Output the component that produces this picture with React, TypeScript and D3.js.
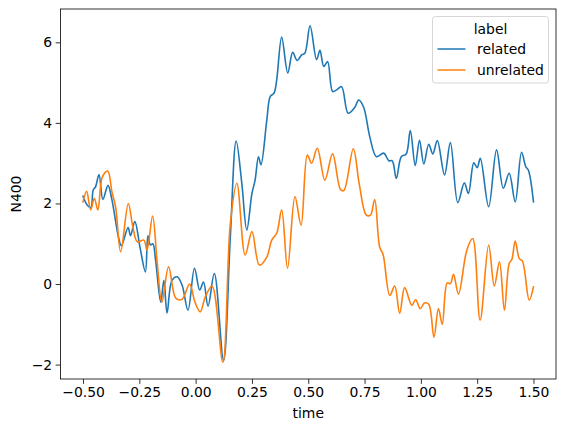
import React, { useEffect, useRef } from 'react';
import * as d3 from 'd3';

// related condition: time (s) and N400 amplitude
const relatedTime = [-0.5, -0.48, -0.465, -0.455, -0.444, -0.429, -0.412, -0.389, -0.372, -0.342, -0.33, -0.3, -0.289, -0.27, -0.246, -0.223, -0.212, -0.201, -0.19, -0.178, -0.155, -0.141, -0.127, -0.105, -0.082, -0.06, -0.034, -0.005, 0.018, 0.035, 0.055, 0.083, 0.124, 0.154, 0.18, 0.205, 0.227, 0.25, 0.264, 0.279, 0.29, 0.316, 0.331, 0.348, 0.36, 0.382, 0.409, 0.431, 0.451, 0.471, 0.485, 0.508, 0.537, 0.552, 0.569, 0.586, 0.608, 0.626, 0.648, 0.677, 0.707, 0.724, 0.746, 0.773, 0.803, 0.835, 0.858, 0.873, 0.891, 0.913, 0.935, 0.953, 0.975, 0.994, 1.013, 1.035, 1.053, 1.073, 1.105, 1.131, 1.164, 1.193, 1.211, 1.235, 1.25, 1.264, 1.301, 1.336, 1.366, 1.392, 1.419, 1.447, 1.466, 1.477, 1.5];
const relatedN400 = [2.18, 1.95, 1.9, 2.33, 2.42, 2.72, 2.1, 2.45, 2.1, 1.15, 0.95, 1.4, 1.2, 1.55, 0.88, 0.3, 1.2, 0.97, 1.0, 0.6, -0.45, 0.09, -0.72, 0.09, 0.18, -0.03, -0.65, 0.39, -0.15, 0.05, -0.55, 0.26, -1.9, 1.17, 3.55, 2.5, 1.34, 2.25, 2.58, 3.16, 2.96, 4.07, 4.65, 4.74, 5.07, 6.13, 5.24, 5.75, 5.55, 5.69, 5.73, 6.41, 5.57, 5.8, 5.4, 5.52, 4.78, 4.82, 4.9, 4.24, 4.39, 4.57, 4.39, 3.66, 3.16, 3.25, 3.06, 3.06, 2.62, 3.16, 3.23, 3.81, 2.94, 3.57, 2.98, 3.47, 3.23, 3.56, 2.71, 3.51, 2.02, 2.51, 2.25, 3.01, 2.89, 3.12, 1.92, 3.33, 2.38, 2.75, 2.04, 3.27, 2.91, 2.83, 2.04];

// unrelated condition
const unrelatedTime = [-0.5, -0.484, -0.466, -0.45, -0.434, -0.414, -0.39, -0.372, -0.355, -0.333, -0.299, -0.28, -0.259, -0.23, -0.216, -0.191, -0.171, -0.15, -0.12, -0.088, -0.06, -0.027, -0.003, 0.02, 0.043, 0.073, 0.121, 0.154, 0.183, 0.22, 0.25, 0.283, 0.316, 0.338, 0.36, 0.382, 0.408, 0.441, 0.468, 0.496, 0.515, 0.54, 0.574, 0.608, 0.643, 0.658, 0.7, 0.726, 0.758, 0.776, 0.795, 0.817, 0.832, 0.862, 0.884, 0.906, 0.928, 0.96, 0.977, 0.997, 1.016, 1.035, 1.058, 1.078, 1.095, 1.117, 1.131, 1.145, 1.167, 1.204, 1.23, 1.263, 1.301, 1.326, 1.349, 1.371, 1.392, 1.404, 1.419, 1.437, 1.451, 1.481, 1.5];
const unrelatedN400 = [2.04, 2.3, 1.84, 2.13, 1.84, 2.66, 2.8, 2.3, 1.9, 0.8, 2.0, 1.46, 1.05, 1.09, 0.84, 1.69, 0.55, -0.45, 0.43, -0.35, -0.38, 0.0, -0.45, -0.69, -0.32, -0.05, -1.94, 1.5, 2.5, 0.72, 1.3, 0.47, 0.67, 1.09, 1.26, 1.84, 0.39, 2.17, 1.46, 3.2, 3.0, 3.37, 2.58, 3.23, 2.35, 2.32, 3.36, 2.5, 1.71, 1.71, 2.1, 0.92, 0.74, -0.28, -0.05, -0.73, -0.09, -0.53, -0.39, -0.61, -0.47, -0.5, -1.32, -0.61, -1.0, 0.03, 0.01, 0.24, -0.25, 0.84, 1.13, -0.9, 0.97, -0.05, 0.55, -0.65, 0.51, 0.61, 1.07, 0.63, 0.57, -0.4, -0.07];

const labels = ['related', 'unrelated'];
const colors = ['#1f77b4', '#ff7f0e'];
const xTicks = [-0.5, -0.25, 0, 0.25, 0.5, 0.75, 1.0, 1.25, 1.5];
const yTicks = [-2, 0, 2, 4, 6];

const W = 565, H = 432;
const left = 60.5, right = 556, top = 9, bottom = 379;
const FONT = 'DejaVu Sans, sans-serif';

export default function App() {
    const anchor = useRef<SVGSVGElement>(null);

    useEffect(() => {
        const svg = d3.select(anchor.current);
        svg.selectAll('*').remove();

        const series = [
            relatedTime.map((t, i) => [t, relatedN400[i]] as [number, number]),
            unrelatedTime.map((t, i) => [t, unrelatedN400[i]] as [number, number]),
        ];

        const allY = relatedN400.concat(unrelatedN400);
        const yMin = d3.min(allY)!, yMax = d3.max(allY)!;
        const pad = (yMax - yMin) * 0.05;

        const x = d3.scaleLinear().domain([-0.6, 1.6]).range([left, right]);
        const y = d3.scaleLinear().domain([yMin - pad, yMax + pad]).range([bottom, top]);

        // smooth through the picked points, like the filtered ERP traces
        const line = d3.line<[number, number]>()
            .x(d => x(d[0]))
            .y(d => y(d[1]))
            .curve(d3.curveCatmullRom.alpha(0.5));

        const plot = svg.append('g');
        series.forEach((s, i) => {
            plot.append('path')
                .attr('d', line(s))
                .attr('fill', 'none')
                .attr('stroke', colors[i])
                .attr('stroke-width', 1.6)
                .attr('stroke-linejoin', 'round')
                .attr('stroke-linecap', 'square');
        });

        // x axis
        const xAxis = svg.append('g')
            .attr('transform', `translate(0,${bottom})`)
            .call(d3.axisBottom(x).tickValues(xTicks).tickFormat(d3.format('.2f') as any)
                .tickSize(4.86).tickPadding(3.5).tickSizeOuter(0));
        xAxis.select('.domain').remove();

        // y axis
        const yAxis = svg.append('g')
            .attr('transform', `translate(${left},0)`)
            .call(d3.axisLeft(y).tickValues(yTicks).tickFormat(d3.format('d') as any)
                .tickSize(4.86).tickPadding(3.5).tickSizeOuter(0));
        yAxis.select('.domain').remove();

        svg.selectAll('.tick line').attr('stroke', '#000').attr('stroke-width', 0.8);
        svg.selectAll('.tick text')
            .attr('fill', '#000')
            .style('font-family', FONT)
            .style('font-size', '13.9px');

        // spines
        svg.append('rect')
            .attr('x', left).attr('y', top)
            .attr('width', right - left).attr('height', bottom - top)
            .attr('fill', 'none').attr('stroke', '#000').attr('stroke-width', 0.8);

        // axis labels
        svg.append('text')
            .attr('x', (left + right) / 2).attr('y', 418)
            .attr('text-anchor', 'middle')
            .style('font-family', FONT).style('font-size', '13.9px')
            .text('time');

        svg.append('text')
            .attr('transform', `translate(21,${(top + bottom) / 2}) rotate(-90)`)
            .attr('text-anchor', 'middle')
            .style('font-family', FONT).style('font-size', '13.9px')
            .text('N400');

        // legend
        const lg = svg.append('g');
        lg.append('rect')
            .attr('x', 432.5).attr('y', 16.5).attr('width', 116).attr('height', 66.5)
            .attr('rx', 3).attr('fill', 'white').attr('fill-opacity', 0.8)
            .attr('stroke', '#cccccc').attr('stroke-width', 0.8);
        lg.append('text')
            .attr('x', 490.5).attr('y', 34)
            .attr('text-anchor', 'middle')
            .style('font-family', FONT).style('font-size', '13.9px')
            .text('label');
        labels.forEach((lab, i) => {
            const ly = 49 + i * 21;
            lg.append('line')
                .attr('x1', 437.5).attr('x2', 465.5).attr('y1', ly).attr('y2', ly)
                .attr('stroke', colors[i]).attr('stroke-width', 1.5);
            lg.append('text')
                .attr('x', 477).attr('y', ly + 5)
                .style('font-family', FONT).style('font-size', '13.9px')
                .text(lab);
        });
    }, []);

    return <svg ref={anchor} width={W} height={H}
        style={{ position: 'absolute', left: 0, top: 0, background: 'white' }} />;
}
